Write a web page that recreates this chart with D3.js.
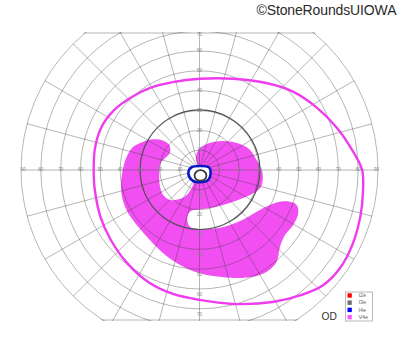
<!DOCTYPE html>
<html>
<head>
<meta charset="utf-8">
<script src="https://cdn.jsdelivr.net/npm/d3@7"></script>
<style>
  body { margin: 0; background: #fff; }
  text { font-family: "Liberation Sans", Arial, sans-serif; }
</style>
</head>
<body>
<div id="chart"></div>
<script>
// isopters in polar form: angle in degrees (0 = right, counter-clockwise), eccentricity in degrees
var v4eAngles = [0, 8, 17, 28, 40, 52, 70, 90, 107, 121, 132, 145, 157, 169, 183, 190, 205, 218, 232, 246, 258, 270, 284, 299, 309, 317, 325, 334, 344, 352];
var v4eEcc    = [82, 77.3, 72.5, 67, 61.5, 55.5, 49, 46, 46.3, 48.3, 50, 52.6, 54, 53.8, 53.4, 53.7, 55.2, 56.9, 59.4, 62.2, 63.9, 65.5, 69.6, 76.1, 81.2, 85.2, 86.4, 85.8, 84.4, 83.2];

var i3eAngles = [0, 30, 60, 90, 120, 150, 180, 210, 240, 270, 300, 330];
var i3eEcc    = [30.5, 30.4, 30.3, 30.3, 30.2, 30.1, 30, 30, 30, 30, 30.2, 30.4];

// small central isopters, x / y in degrees
var i4eX = [5.6, 4.9, 0.5, -4.3, -5.6, -3.9, 0.3, 4.4];
var i4eY = [-0.8, 1.2, 2.0, 1.2, -1.7, -5.0, -6.2, -5.0];
var i3eInnerX = [3.5, 2.6, 0.5, -1.6, -2.5, -1.6, 0.5, 2.6];
var i3eInnerY = [-2.8, -0.9, -0.1, -0.9, -2.8, -4.7, -5.4, -4.7];

// V4e scotoma (shaded area), x / y in degrees
var scotomaX = [-28.3, -33.4, -36.7, -38.7, -39.6, -38.7, -35.9, -30.9, -25.0, -18.3, -9.8, 0.3, 12.0, 25.5, 33.9, 38.9, 40.6, 43.1, 47.3, 49.8, 49.0, 45.6, 40.6, 35.5, 28.8, 22.1, 15.4, 8.7, 0.3, -4.8, -6.2, -4.8, 0.3, 8.7, 17.0, 25.5, 30.5, 31.9, 31.4, 28.8, 25.5, 20.4, 12.0, 3.6, -0.6, -1.8, -1.1, -3.9, -3.1, -5.6, -9.0, -14.9, -18.3, -19.9, -20.3, -19.6, -17.4, -14.9, -15.2, -18.3, -23.3];
var scotomaY = [14.3, 11.7, 6.7, 0, -8.4, -15.1, -21.8, -28.6, -35.3, -42.0, -47.9, -52.1, -54.1, -54.1, -51.3, -46.2, -38.7, -32.8, -27.7, -21.8, -17.6, -16.0, -16.0, -17.6, -21.0, -24.9, -27.7, -29.4, -29.9, -28.6, -24.4, -21.0, -19.8, -18.5, -16.0, -12.6, -9.2, -5.0, 0, 5.0, 10.1, 13.1, 14.6, 13.1, 10.1, 5.9, 1.7, -5.0, -6.7, -11.7, -14.3, -15.1, -12.6, -8.4, -1.7, 3.4, 5.9, 8.7, 12.6, 14.8, 15.5];

// grid
var rings = [10, 20, 30, 40, 50, 60, 70, 80, 90];
var spokes = [0, 15, 30, 45, 60, 75, 90, 105, 120, 135, 150, 165, 180, 195, 210, 225, 240, 255, 270, 285, 300, 315, 330, 345];
var hLabels = [10, 20, 30, 40, 50, 60, 70, 80, 90];
var vUpLabels = [10, 20, 30, 40, 50, 60, 70];
var vDownLabels = [10, 20, 30, 40, 50, 60, 70];

var legendLabels = ['I2e', 'I3e', 'I4e', 'V4e'];
var legendColors = ['#ff0000', '#6e6e6e', '#0000ff', '#ff55ff'];

var W = 400, H = 352;
var cx = 199.5, cy = 170, R = 178.5;
var topY = 33, bottomY = 320;

var svg = d3.select('#chart').append('svg').attr('width', W).attr('height', H);
svg.append('rect').attr('width', W).attr('height', H).attr('fill', '#fff');

var r = d3.scaleLinear().domain([0, 90]).range([0, R]);
var x = d3.scaleLinear().domain([-90, 90]).range([cx - R, cx + R]);
var y = d3.scaleLinear().domain([-90, 90]).range([cy + R, cy - R]);
var ang = d3.scaleLinear().domain([0, 360]).range([Math.PI / 2, Math.PI / 2 - 2 * Math.PI]);

var defs = svg.append('defs');
defs.append('clipPath').attr('id', 'clipBand')
  .append('rect').attr('x', 0).attr('y', topY - 1).attr('width', W).attr('height', bottomY - topY + 2);
defs.append('clipPath').attr('id', 'clipDisc')
  .append('circle').attr('cx', cx).attr('cy', cy).attr('r', R + 1);

var field = svg.append('g').attr('clip-path', 'url(#clipBand)')
  .append('g').attr('clip-path', 'url(#clipDisc)');

var closedLine = d3.line()
  .x(d => x(d[0]))
  .y(d => y(d[1]))
  .curve(d3.curveCatmullRomClosed.alpha(0.5));

var radialLine = d3.lineRadial()
  .angle(d => ang(d[0]))
  .radius(d => r(d[1]))
  .curve(d3.curveCatmullRomClosed.alpha(0.5));

// shaded scotoma
field.append('path')
  .datum(d3.zip(scotomaX, scotomaY))
  .attr('d', closedLine)
  .attr('fill', '#f24ff2');

// grid
var grid = field.append('g')
  .attr('fill', 'none')
  .attr('stroke', '#3c3c3c')
  .attr('stroke-opacity', 0.42)
  .attr('stroke-width', 0.9);

grid.selectAll('circle')
  .data(rings).enter()
  .append('circle')
  .attr('cx', cx)
  .attr('cy', cy)
  .attr('r', d => r(d));

grid.selectAll('line')
  .data(spokes).enter()
  .append('line')
  .attr('x1', x(0))
  .attr('y1', y(0))
  .attr('x2', d => x(90 * Math.cos(d * Math.PI / 180)))
  .attr('y2', d => y(90 * Math.sin(d * Math.PI / 180)));

grid.append('rect')
  .attr('x', -5).attr('y', topY)
  .attr('width', W + 10).attr('height', bottomY - topY);

// I3e (30 deg)
field.append('path')
  .datum(d3.zip(i3eAngles, i3eEcc))
  .attr('transform', 'translate(' + cx + ',' + cy + ')')
  .attr('d', radialLine)
  .attr('fill', 'none')
  .attr('stroke', '#505050')
  .attr('stroke-width', 1.1);

// V4e outline
field.append('path')
  .datum(d3.zip(v4eAngles, v4eEcc))
  .attr('transform', 'translate(' + cx + ',' + cy + ')')
  .attr('d', radialLine)
  .attr('fill', 'none')
  .attr('stroke', '#ee3cee')
  .attr('stroke-width', 2.4);

// central isopters
field.append('path')
  .datum(d3.zip(i4eX, i4eY))
  .attr('d', closedLine)
  .attr('fill', '#fff')
  .attr('stroke', '#0b16c4')
  .attr('stroke-width', 2.6);

field.append('path')
  .datum(d3.zip(i3eInnerX, i3eInnerY))
  .attr('d', closedLine)
  .attr('fill', 'none')
  .attr('stroke', '#3a3a3a')
  .attr('stroke-width', 1.8);

// axis numbers
var labels = svg.append('g')
  .attr('font-size', 4.5)
  .attr('fill', '#8a8a8a')
  .attr('text-anchor', 'middle')
  .attr('dominant-baseline', 'middle');

labels.selectAll('text.left')
  .data(hLabels).enter()
  .append('text').attr('class', 'left')
  .attr('x', d => x(-d) + (d === 90 ? 2.3 : 0))
  .attr('y', y(0))
  .text(d => d);

labels.selectAll('text.right')
  .data(hLabels).enter()
  .append('text').attr('class', 'right')
  .attr('x', d => x(d) - (d === 90 ? 1.5 : 0))
  .attr('y', y(0))
  .text(d => d);

labels.selectAll('text.up')
  .data(vUpLabels).enter()
  .append('text').attr('class', 'up')
  .attr('x', x(0))
  .attr('y', d => y(d) + (d === 70 ? 4 : 0))
  .text(d => d);

labels.selectAll('text.down')
  .data(vDownLabels).enter()
  .append('text').attr('class', 'down')
  .attr('x', x(0))
  .attr('y', d => y(-d) + 5.5)
  .text(d => d);

// legend
var legend = svg.append('g').attr('transform', 'translate(345.5,292)');
legend.append('rect')
  .attr('width', 27).attr('height', 29)
  .attr('fill', '#fff')
  .attr('stroke', '#a8a8a8')
  .attr('stroke-width', 0.8);

var item = legend.selectAll('g.item')
  .data(legendLabels).enter()
  .append('g').attr('class', 'item')
  .attr('transform', (d, i) => 'translate(2,' + (1.3 + i * 7.2) + ')');

item.append('rect')
  .attr('width', 4.3).attr('height', 4.4)
  .attr('fill', (d, i) => legendColors[i]);

item.append('text')
  .attr('x', 11).attr('y', 3.9)
  .attr('font-size', 5.4)
  .attr('fill', '#666')
  .text(d => d);

svg.append('text')
  .attr('x', 321.5).attr('y', 320)
  .attr('font-size', 10.2)
  .attr('fill', '#333')
  .text('OD');

svg.append('text')
  .attr('x', 256.5).attr('y', 15)
  .attr('font-size', 14)
  .attr('fill', '#2a2a2a')
  .attr('textLength', 140)
  .text('\u00a9StoneRoundsUIOWA');
</script>
</body>
</html>
